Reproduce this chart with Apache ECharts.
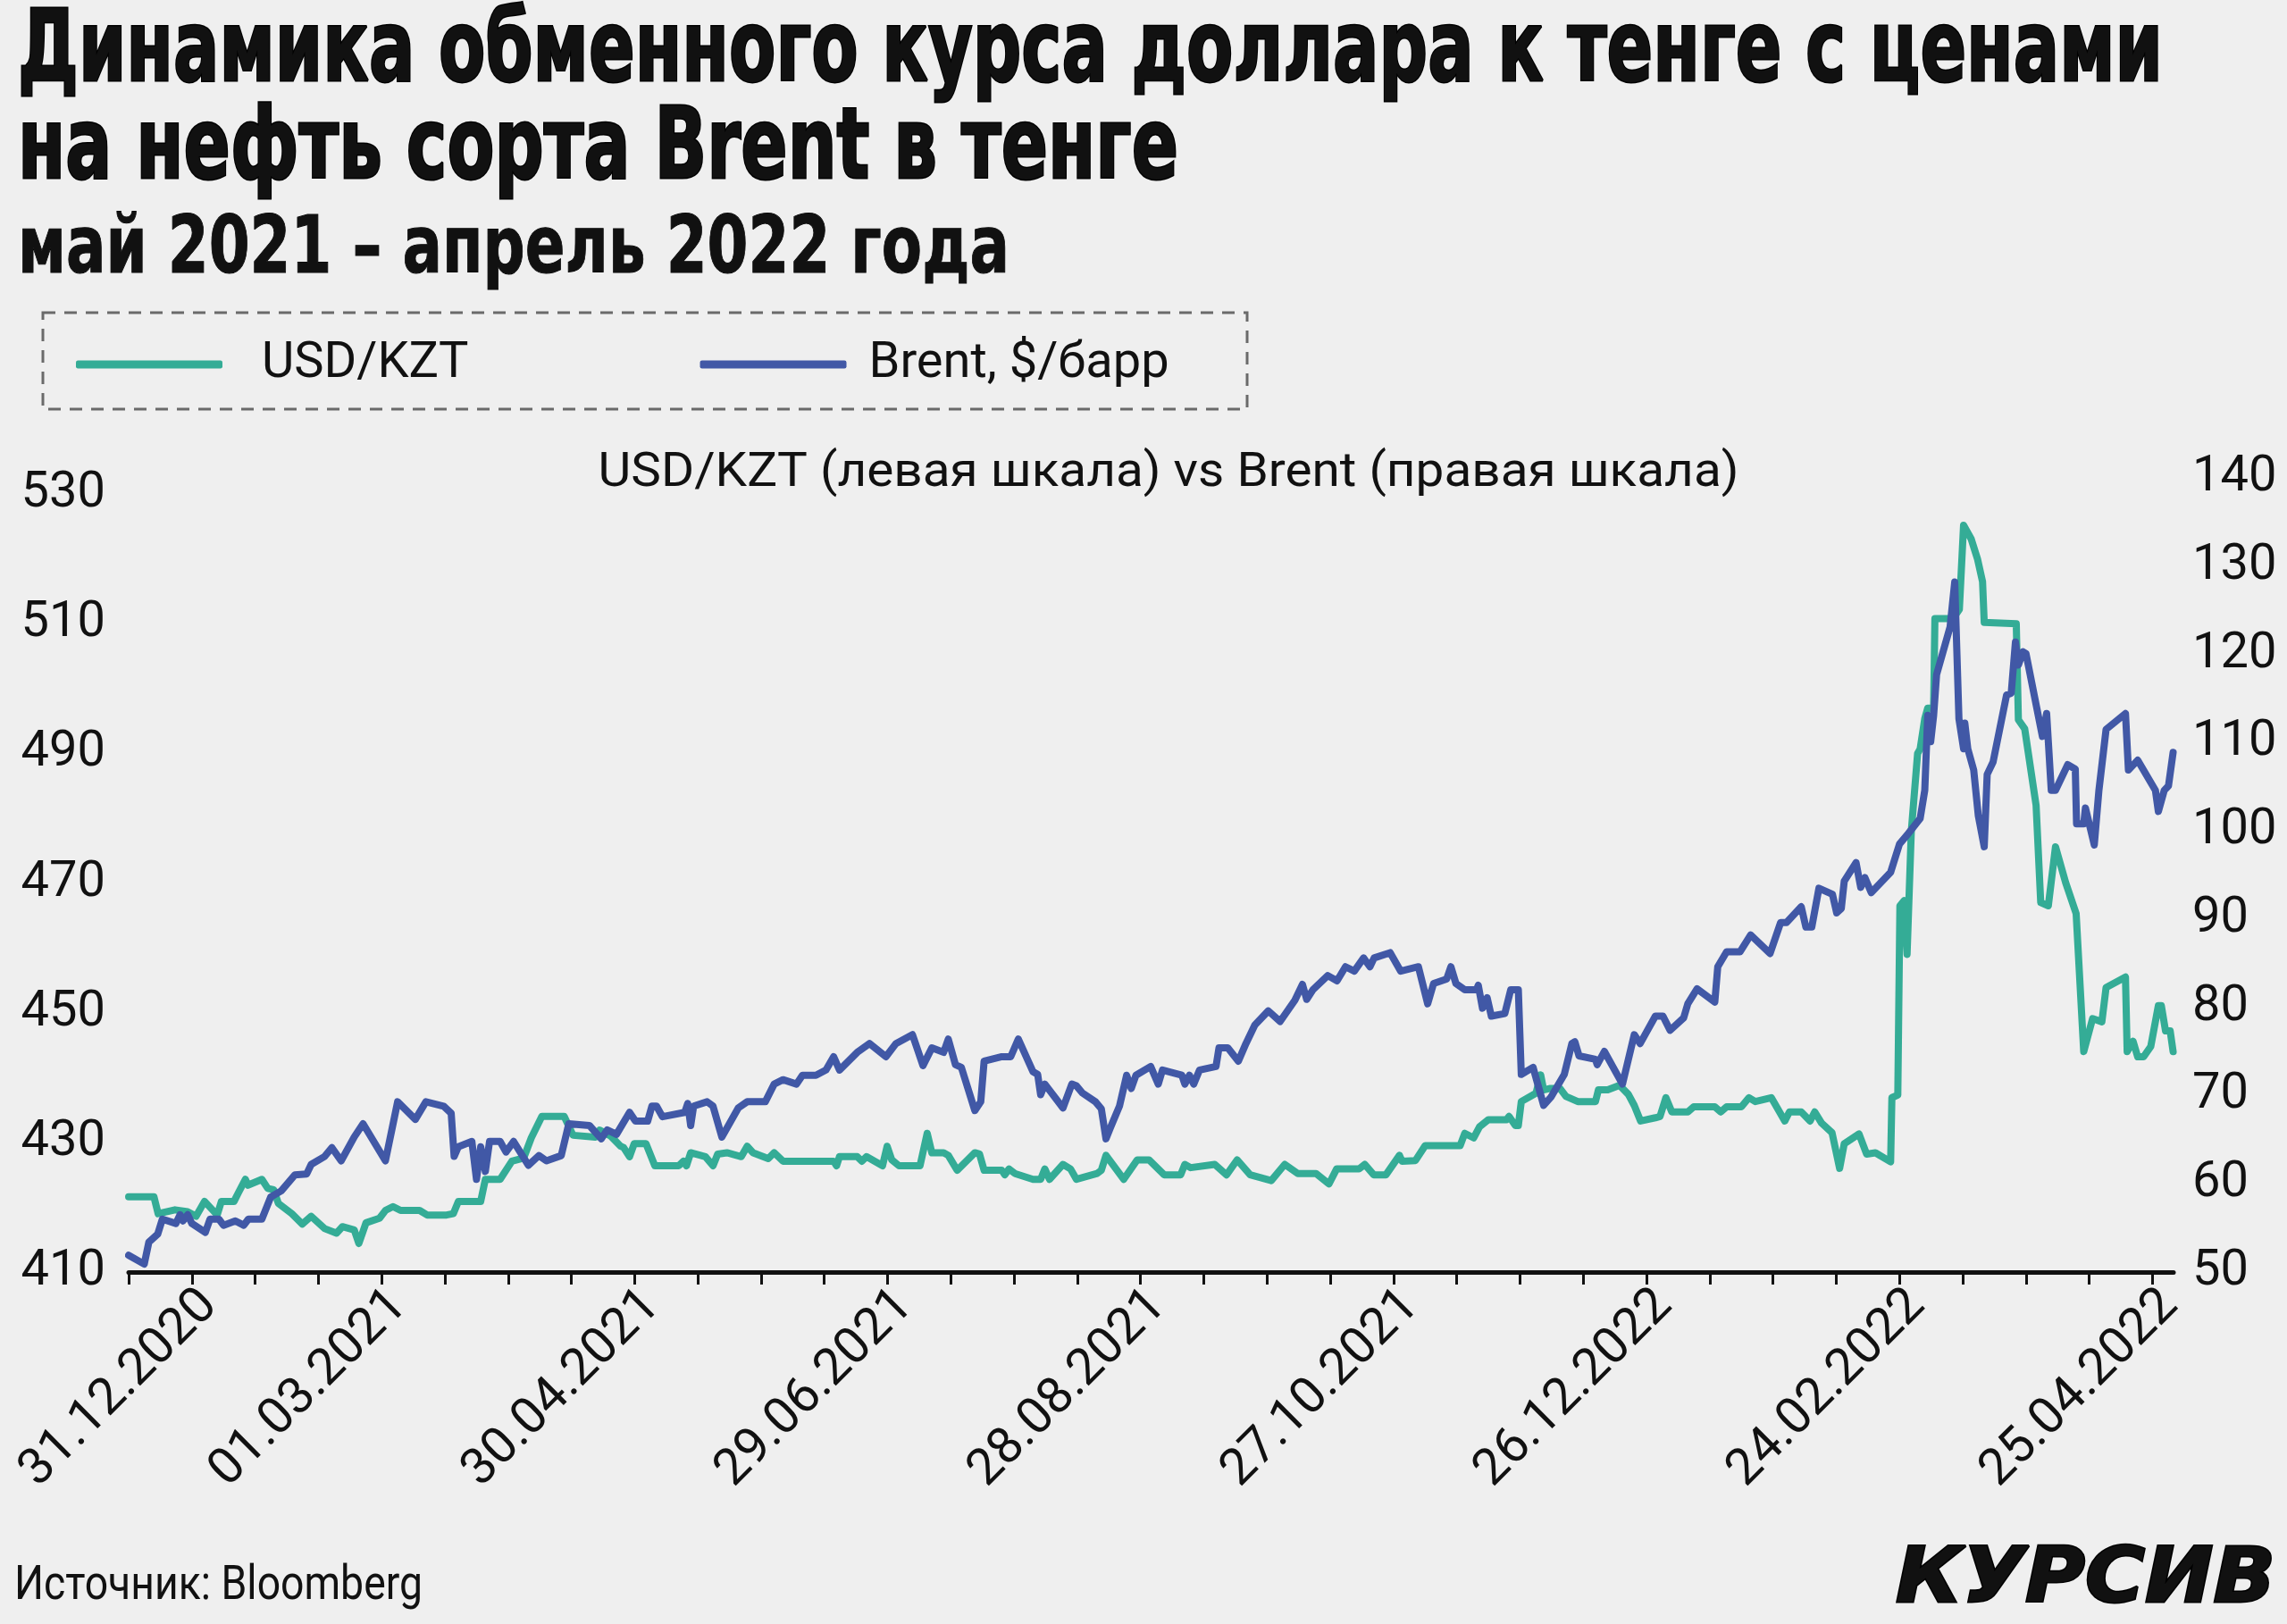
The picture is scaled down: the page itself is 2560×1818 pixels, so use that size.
<!DOCTYPE html>
<html>
<head>
<meta charset="utf-8">
<script src="https://cdn.jsdelivr.net/npm/echarts@6/dist/echarts.min.js"></script>
<style>
html,body{margin:0;padding:0;background:#efefef;}
#chart{width:2560px;height:1818px;}
</style>
</head>
<body>
<div id="chart"></div>
<script>
// ---- DATA (x = days since 31.12.2020) ----
const usdDays = [0,6,7,11,14,16,18,21,22,25,26,27.7,28.3,31.6,33,34.4,35.5,38.7,41.2,43.3,46.5,49.3,50.7,53.5,54.6,56.3,59.5,60.9,62.7,64.5,69,70.8,75.4,77,78.2,83.5,84.6,88.1,90.9,93.7,95.5,98,103.3,105.4,110.7,111.7,114.3,116.7,117.4,118.8,119.9,122.7,124.8,130.5,131.6,132.3,133.3,136.8,138.6,139.7,141.9,145.3,146.7,148.1,151.7,153.1,155.2,167.2,167.9,168.6,172.8,173.9,175,178.8,179.9,181,182.7,187.7,189.4,190.5,193.3,194.4,196.5,200.7,201.8,202.9,207.1,207.8,208.8,210.2,214.5,216.3,217.3,218.4,221.6,223.4,224.8,229.7,230.7,231.8,236,239.2,242,245.6,249.5,250.5,251.9,257.6,260.4,262.9,266,271,274.2,277.3,281.6,284.7,286.5,291.8,293.2,295.3,298.2,301.4,302,305.2,307.5,315.8,316.9,319,320.4,322.5,326.8,327.4,328.9,329.6,330.3,333.8,334.9,335.6,337,339.5,340.9,343.7,347.9,348.6,350.8,353.6,355.7,357.1,358.6,362.1,363.2,364.6,366,369.8,371.2,376.2,377.6,379,382.5,384.3,385.8,389.6,392.8,393.9,396.7,398.8,399.9,401.5,404,405.8,406.9,410.4,412.2,414.3,417.9,418.2,419.6,420.1,421.1,421.8,422.8,424.3,424.9,426,426.7,428.1,428.4,432.7,434.2,435.2,437,438.5,439.7,440.1,447.7,448.2,449.7,452.4,453.5,455.3,457,459.4,461.9,463.7,465.8,468,469,473.6,474,475.4,476.5,477.9,479.6,481.4,482.1,483.1,484.2,484.9];
const usdVals = [421.6,421.6,419.0,419.6,419.3,418.6,420.9,418.8,420.9,420.9,422.2,424.3,423.4,424.3,422.9,422.7,420.6,419.0,417.4,418.6,416.7,416.0,417.0,416.5,414.4,417.6,418.3,419.5,420.1,419.5,419.5,418.8,418.8,419.0,420.9,420.9,424.3,424.3,427.1,427.6,430.7,434.0,434.0,431.1,430.8,431.9,431.0,429.4,429.2,427.8,429.8,429.8,426.4,426.4,427.1,426.4,428.4,427.8,426.4,428.2,428.4,427.8,429.4,428.4,427.5,428.4,427.1,427.1,426.4,427.8,427.8,427.1,427.8,426.4,429.4,427.3,426.4,426.4,431.4,428.4,428.4,428.0,425.7,428.4,428.2,425.7,425.7,425.0,425.9,425.2,424.3,424.3,425.9,424.3,426.6,425.9,424.3,425.2,425.7,428.0,424.3,427.3,427.3,425.0,425.0,426.6,426.1,426.6,425.0,427.3,425.0,424.1,426.6,425.2,425.2,423.6,425.9,425.9,426.6,425.0,425.0,428.0,427.1,427.2,429.5,429.5,431.4,430.7,432.4,433.5,433.5,434.0,432.6,432.6,436.3,437.6,440.4,438.1,438.3,438.3,437.1,436.3,436.3,438.1,438.1,438.8,437.4,435.7,433.3,433.8,434.0,436.9,434.7,434.7,435.5,435.5,434.7,435.5,435.5,436.9,436.3,436.9,433.3,434.7,434.7,433.3,434.7,433.0,431.5,426.0,429.8,431.3,428.2,428.4,427.0,436.9,437.3,466.5,467.3,459.0,478.0,490.0,490.7,495.4,497.0,497.0,510.8,510.8,512.2,525.2,523.1,520.0,516.5,510.2,510.0,495.2,493.8,482.0,467.0,466.5,475.6,470.1,465.3,444.0,449.1,448.6,453.9,455.5,444.0,445.6,443.2,443.2,444.8,451.1,451.1,447.2,447.2,444.0];

const brentDays = [0,3.7,4.8,6.9,8,11.2,12.2,12.9,14,15,18.2,19.3,21.4,22.5,25.3,27.3,28.4,31.6,33.7,36.2,39.4,42.2,43.3,46.5,48.2,50.4,53.5,55.6,60.9,63.8,68,70.5,74.7,76.5,77.2,78.2,81.4,82.5,83.5,84.6,85.6,88.1,89.5,91.3,94.8,97.3,99.1,102.6,104.4,109.3,112.1,113.5,115.7,118.8,120.2,123.1,124.1,125.2,126.6,131.9,132.6,133.3,134,137.2,138.6,140.7,144.6,146.7,151,153.1,155.2,158.4,159.8,163,165.4,167.2,168.6,172.8,175.7,179.6,182,185.9,188.4,190.5,193.3,194.4,196.1,197.5,200.7,202.1,202.9,207.1,209.2,211,214.5,215.6,216.3,217.3,221.6,223.7,224.8,226.2,229.3,230.7,231.8,232.8,235,236.7,237.8,238.9,242.4,244.2,245.2,249.8,250.5,251.6,252.6,254,257.9,258.6,260.7,263.2,265,267.1,270.3,273.1,276.6,278.4,279.4,280.9,284.4,286.6,288.6,290.7,292.9,294.4,295.4,299.2,301.7,305.9,308.1,309.5,312.6,313.6,314.8,316.9,319.7,320.1,321.1,322.2,323.2,326.4,327.8,329.6,330.3,333.1,335.6,337.3,340.5,342.3,343,344,347.9,348.3,350,354.3,357.1,358.5,362.1,363.9,365.6,368.8,369.8,372,376.2,376.9,379,382.2,384.7,389.3,391.8,393.2,396.7,397.8,399.2,400.9,404.1,405.1,406.2,406.9,409.7,410.8,411.8,413.3,417.9,420,422.1,424.9,426,426.7,427.4,428.1,428.8,432,433.1,434.1,435.2,435.5,436.2,437.6,438.7,440.1,440.8,442.2,445.4,446.5,447.5,448.2,449.3,450,453.9,454.9,456,457,459.9,461.7,462,463.7,464.1,465.1,466.2,467.3,469,473.6,474.3,476.5,480.7,481.4,482.8,483.8,484.9];
const brentVals = [51.9,50.9,53.4,54.3,56.0,55.5,56.5,55.8,56.5,55.5,54.5,56.0,56.0,55.3,55.8,55.3,56.0,56.0,58.5,59.2,61.0,61.1,62.2,63.1,64.1,62.6,65.3,66.8,62.6,69.3,67.3,69.3,68.8,68.0,63.1,64.2,64.8,60.5,64.2,61.4,64.8,64.8,63.6,64.8,62.1,63.2,62.6,63.2,66.8,66.6,65.1,66.1,65.6,68.1,67.1,67.1,68.8,68.8,67.6,68.1,69.1,66.6,68.8,69.3,68.8,65.3,68.6,69.3,69.3,71.3,71.8,71.3,72.3,72.3,72.9,74.4,72.9,74.9,75.9,74.4,75.9,76.9,73.4,75.4,74.9,76.4,73.5,73.2,68.3,69.3,73.9,74.4,74.4,76.4,72.7,72.4,70.1,71.3,68.6,71.3,71.1,70.3,69.3,68.5,65.1,66.3,68.8,72.3,70.8,72.3,73.3,71.3,72.9,72.3,71.3,72.3,71.3,72.9,73.3,75.4,75.4,73.9,75.9,78.0,79.6,78.4,80.8,82.6,80.9,82.0,83.6,83.0,84.6,84.1,85.6,84.6,85.6,86.2,84.1,84.6,80.4,82.7,83.2,84.6,82.7,82.0,82.0,82.5,79.9,81.1,79.0,79.3,82.0,82.0,72.4,73.2,68.9,69.8,72.4,75.9,76.1,74.5,74.1,73.5,75.0,71.3,76.9,75.9,79.0,79.0,77.4,78.8,80.4,82.1,80.6,84.6,86.3,86.3,88.2,86.1,89.6,89.6,91.4,89.1,89.1,93.5,92.8,90.7,91.2,94.3,96.4,93.6,94.7,93.0,95.3,98.5,99.7,101.4,104.6,113.1,110.1,113.1,117.7,123.1,128.2,112.7,109.3,112.2,109.3,106.9,101.7,98.2,106.4,107.8,115.4,115.6,121.4,118.8,120.3,120.1,110.7,113.3,104.6,104.6,107.5,107.0,100.8,100.8,102.6,100.6,98.4,104.6,111.5,113.3,106.9,108.0,104.6,102.2,104.6,105.1,108.9];

const xTickLabels = ['31.12.2020','01.03.2021','30.04.2021','29.06.2021','28.08.2021','27.10.2021','26.12.2022','24.02.2022','25.04.2022'];
const xTickLabelDays = [15,60,120,180,240,300,360,420,480];
const seriesNames = ['USD/KZT','Brent, $/барр'];
const titleLine1 = 'Динамика обменного курса доллара к тенге с ценами';
const titleLine2 = 'на нефть сорта Brent в тенге';
const subtitleText = 'май 2021 – апрель 2022 года';
const chartCaption = 'USD/KZT (левая шкала) vs Brent (правая шкала)';
const sourceText = 'Источник: Bloomberg';
const logoText = 'КУРСИВ';

// ---- STYLE ----
const TEAL = '#34ac96';
const BLUE = '#4158a6';
const INK = '#111111';
const AXFONT = 'Roboto';

const xTickDays = [];
for (let d = 0; d <= 480; d += 15) xTickDays.push(d);
const labelMap = {};
xTickLabelDays.forEach((d, i) => { labelMap[d] = xTickLabels[i]; });

const mctx = document.createElement('canvas').getContext('2d');
function fitText(text, o) {
  const font = (o.italic ? 'italic ' : '') + (o.weight || 'normal') + ' ' + o.size + 'px ' + o.family;
  mctx.font = font;
  mctx.textBaseline = 'alphabetic';
  const w = mctx.measureText(text).width;
  const capA = mctx.measureText('H').actualBoundingBoxAscent;
  mctx.textBaseline = 'middle';
  const capM = mctx.measureText('H').actualBoundingBoxAscent;
  const off = capA - capM;
  const sx = o.width ? o.width / w : 1;
  let x = o.x;
  if (o.center !== undefined) x = o.center - (o.width || w) / 2;
  return {
    type: 'text', x: x, y: o.baseline - off, scaleX: sx, silent: true, z: 10,
    style: {
      text: text, font: font, fill: o.color || INK,
      stroke: o.stroke || null, lineWidth: o.lineWidth || 0,
      align: 'left', verticalAlign: 'middle', textAlign: 'left', textVerticalAlign: 'middle'
    }
  };
}

const chart = echarts.init(document.getElementById('chart'), null, {renderer: 'canvas'});
const option = {
  backgroundColor: '#efefef',
  animation: false,
  grid: { left: 144, right: 127, top: 535, bottom: 394, containLabel: false },
  legend: {
    left: 85, top: 380, padding: 0,
    itemWidth: 164, itemHeight: 9, itemGap: 259, icon: 'roundRect',
    textStyle: { fontFamily: AXFONT, fontSize: 56, color: INK, padding: [16, 0, 0, 39] },
    data: [
      { name: seriesNames[0] },
      { name: seriesNames[1], textStyle: { padding: [16, 0, 0, 20] } }
    ]
  },
  xAxis: {
    type: 'value', min: 0, max: 485, interval: 15,
    axisLine: { show: true, onZero: false, lineStyle: { color: INK, width: 5 } },
    axisTick: { show: true, length: 14, lineStyle: { color: INK, width: 3 }, customValues: xTickDays },
    axisLabel: {
      customValues: xTickLabelDays,
      formatter: function (v) { return labelMap[v] || ''; },
      rotate: 45, fontFamily: AXFONT, fontSize: 57, color: INK, margin: 9,
      verticalAlign: 'top'
    },
    splitLine: { show: false }
  },
  yAxis: [
    {
      type: 'value', min: 410, max: 532.5, interval: 20, position: 'left',
      axisLine: { show: false }, axisTick: { show: false }, splitLine: { show: false },
      axisLabel: { showMaxLabel: false, fontFamily: AXFONT, fontSize: 56, color: INK, margin: 26 }
    },
    {
      type: 'value', min: 50, max: 140, interval: 10, position: 'right',
      axisLine: { show: false }, axisTick: { show: false }, splitLine: { show: false },
      axisLabel: { fontFamily: AXFONT, fontSize: 56, color: INK, margin: 21, align: 'left' }
    }
  ],
  series: [
    {
      name: seriesNames[0], type: 'line', yAxisIndex: 0, symbol: 'none', showSymbol: false,
      data: usdDays.map((d, i) => [d, usdVals[i]]),
      lineStyle: { color: TEAL, width: 8, join: 'round', cap: 'round' },
      itemStyle: { color: TEAL }, z: 2
    },
    {
      name: seriesNames[1], type: 'line', yAxisIndex: 1, symbol: 'none', showSymbol: false,
      data: brentDays.map((d, i) => [d, brentVals[i]]),
      lineStyle: { color: BLUE, width: 8, join: 'round', cap: 'round' },
      itemStyle: { color: BLUE }, z: 3
    }
  ],
  graphic: [
    fitText(titleLine1, { x: 20, baseline: 90, width: 2401, size: 110, family: "'DejaVu Sans'", weight: 'bold', stroke: '#000', lineWidth: 3 }),
    fitText(titleLine2, { x: 20, baseline: 199, width: 1299, size: 110, family: "'DejaVu Sans'", weight: 'bold', stroke: '#000', lineWidth: 3 }),
    fitText(subtitleText, { x: 20, baseline: 305, width: 1110, size: 89, family: "'DejaVu Sans'", weight: 'bold', stroke: '#000', lineWidth: 1 }),
    {
      type: 'rect', silent: true, z: 5,
      shape: { x: 48, y: 350, width: 1348, height: 108 },
      style: { fill: 'none', stroke: '#6a6a6a', lineWidth: 3, lineDash: [14, 10] }
    },
    fitText(chartCaption, { center: 1308, baseline: 544, width: 1277, size: 54, family: AXFONT }),
    fitText(sourceText, { x: 16, baseline: 1790, width: 457, size: 53, family: AXFONT }),
    fitText(logoText, { x: 2122, baseline: 1793, width: 425, size: 85, family: "'DejaVu Sans'", weight: 'bold', italic: true, stroke: '#000', lineWidth: 3 })
  ]
};
chart.setOption(option);
</script>
</body>
</html>
